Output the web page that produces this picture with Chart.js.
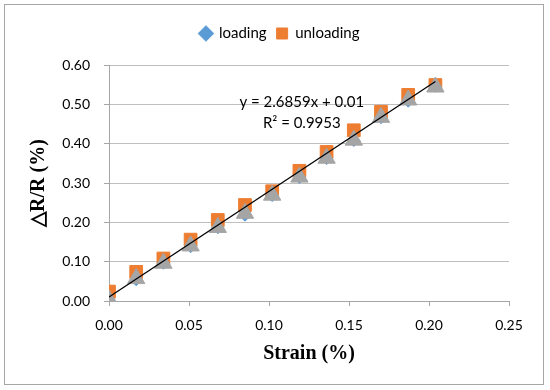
<!DOCTYPE html>
<html lang="en">
<head>
    <meta charset="UTF-8">
    <title>Strain vs resistance change</title>
    <style>
        body {
    margin: 0;
    padding: 0;
    background-color: #fff;
}

.chart-box {
    width: 550px;
    height: 390px;
}
    </style>
</head>
<body>
    <div class="chart-box">
        <canvas id="strainChart" width="550" height="390"></canvas>
    </div>
    <script src="https://cdn.jsdelivr.net/npm/chart.js"></script>
    <script>
// values
const strain = [0.000, 0.017, 0.034, 0.051, 0.068, 0.085, 0.102, 0.119, 0.136, 0.153, 0.170, 0.187, 0.204];
const loading = [0.003, 0.054, 0.096, 0.138, 0.186, 0.218, 0.268, 0.314, 0.362, 0.408, 0.466, 0.508, 0.546];
const unloading = [0.024, 0.074, 0.108, 0.156, 0.206, 0.244, 0.279, 0.331, 0.379, 0.434, 0.481, 0.524, 0.549];
const average = [0.003, 0.057, 0.096, 0.140, 0.187, 0.223, 0.269, 0.315, 0.363, 0.409, 0.467, 0.511, 0.544];
const yTicks = [0, 0.1, 0.2, 0.3, 0.4, 0.5, 0.6];
const xTicks = [0, 0.05, 0.1, 0.15, 0.2, 0.25];
const slope = 2.6859;
const intercept = 0.01;
const fitText = ['y = 2.6859x + 0.01', 'R\u00b2 = 0.9953'];

const points = (ys) => strain.map((x, i) => ({ x: x, y: ys[i] }));
const fitEnd = strain[strain.length - 1];

const FONT = 'Lato, "Open Sans", sans-serif';

// outer frame of the figure
const framePlugin = {
    id: 'frame',
    beforeDraw(chart) {
        const ctx = chart.ctx;
        ctx.save();
        ctx.fillStyle = '#fff';
        ctx.fillRect(0, 0, chart.width, chart.height);
        ctx.strokeStyle = '#A6A6A6';
        ctx.lineWidth = 1;
        ctx.strokeRect(4.5, 4.5, 539, 380);
        ctx.restore();
    }
};

// equation label of the trendline
const fitLabel = {
    id: 'fitLabel',
    afterDatasetsDraw(chart) {
        const ctx = chart.ctx;
        const x = chart.scales.x.getPixelForValue(0.1205);
        const y = chart.scales.y.getPixelForValue(0.505);
        ctx.save();
        ctx.font = '15px ' + FONT;
        ctx.fillStyle = '#000';
        ctx.textAlign = 'center';
        ctx.textBaseline = 'middle';
        ctx.fillText(fitText[0], x, y);
        ctx.fillText(fitText[1], x, y + 21);
        ctx.restore();
    }
};

const ctx = document.getElementById('strainChart').getContext('2d');
const strainChart = new Chart(ctx, {
    type: 'scatter',
    data: {
        datasets: [{
            label: 'trend',
            type: 'line',
            data: [{ x: 0, y: intercept }, { x: fitEnd, y: slope * fitEnd + intercept }],
            borderColor: '#000',
            borderWidth: 1.3,
            pointRadius: 0,
            showLine: true,
            order: 0
        }, {
            label: 'series3',
            data: points(average),
            pointStyle: 'triangle',
            pointRadius: 10,
            backgroundColor: '#A5A5A5',
            borderColor: '#A5A5A5',
            borderWidth: 1,
            order: 1
        }, {
            label: 'loading',
            data: points(loading),
            pointStyle: 'rectRot',
            pointRadius: 6,
            backgroundColor: '#5B9BD5',
            borderColor: '#5B9BD5',
            borderWidth: 1,
            order: 2
        }, {
            label: 'unloading',
            data: points(unloading),
            pointStyle: 'rect',
            pointRadius: 9,
            backgroundColor: '#ED7D31',
            borderColor: '#ED7D31',
            borderWidth: 1,
            order: 3
        }]
    },
    options: {
        responsive: false,
        animation: false,
        layout: {
            padding: { left: 15, right: 5, top: 16, bottom: 5 }
        },
        plugins: {
            tooltip: { enabled: false },
            legend: {
                position: 'top',
                labels: {
                    usePointStyle: true,
                    boxWidth: 11,
                    boxHeight: 11,
                    padding: 10,
                    color: '#000',
                    font: { family: FONT, size: 15 },
                    filter: (item) => item.text === 'loading' || item.text === 'unloading'
                }
            }
        },
        scales: {
            x: {
                type: 'linear',
                min: 0,
                max: 0.25,
                afterBuildTicks: (s) => { s.ticks = xTicks.map(v => ({ value: v })); },
                afterFit: (s) => { s.height = 84; },
                grid: {
                    drawOnChartArea: false,
                    drawTicks: true,
                    tickLength: 5,
                    color: '#A6A6A6'
                },
                border: { color: '#A6A6A6' },
                ticks: {
                    padding: 11,
                    color: '#000',
                    font: { family: FONT, size: 14 },
                    callback: (v) => v.toFixed(2)
                },
                title: {
                    display: true,
                    text: 'Strain (%)',
                    color: '#000',
                    font: { family: '"Liberation Serif", serif', size: 20, weight: 'bold' },
                    padding: { top: 0, bottom: 19 }
                }
            },
            xTop: {
                type: 'linear',
                position: 'top',
                display: true,
                afterFit: (s) => { s.height = 14; },
                grid: { display: false },
                border: { display: false },
                ticks: { display: false }
            },
            y: {
                type: 'linear',
                min: 0,
                max: 0.6,
                afterBuildTicks: (s) => { s.ticks = yTicks.map(v => ({ value: v })); },
                afterFit: (s) => { s.width = 94; },
                grid: {
                    color: '#BFBFBF',
                    drawTicks: true,
                    tickLength: 5,
                    tickColor: '#A6A6A6'
                },
                border: { color: '#A6A6A6' },
                ticks: {
                    padding: 14,
                    color: '#000',
                    font: { family: FONT, size: 14 },
                    callback: (v) => v.toFixed(2)
                },
                title: {
                    display: true,
                    text: '\u25b3R/R (%)',
                    color: '#000',
                    font: { family: '"Liberation Serif", serif', size: 20, weight: 'bold' },
                    padding: { top: 12, bottom: 0 }
                }
            },
            yRight: {
                type: 'linear',
                position: 'right',
                display: true,
                afterFit: (s) => { s.width = 36; },
                grid: { display: false },
                border: { display: false },
                ticks: { display: false }
            }
        }
    },
    plugins: [framePlugin, fitLabel]
});
    </script>
</body>
</html>
